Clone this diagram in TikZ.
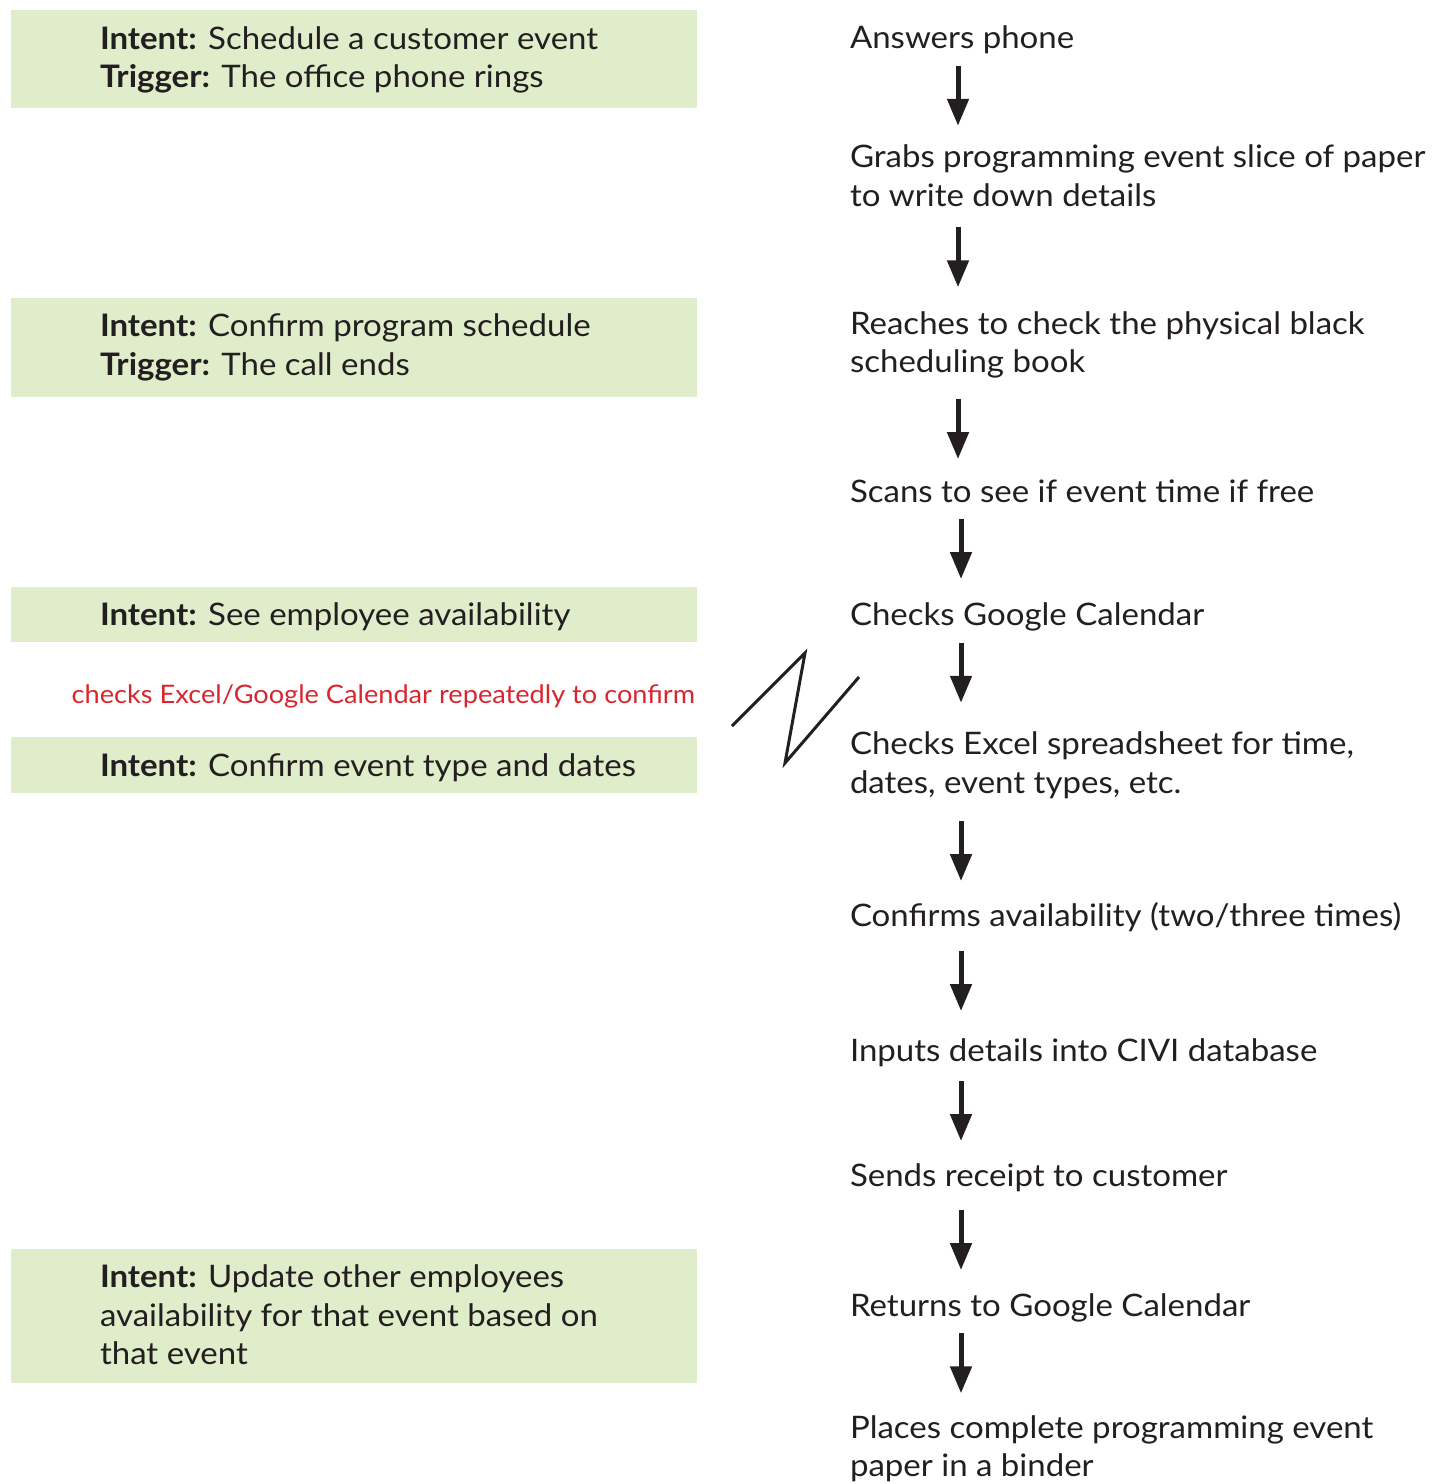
\documentclass[tikz,border=0pt]{standalone}
\usepackage{fontspec}
\setmainfont{Lato}[FakeStretch=1.065]
\usetikzlibrary{arrows.meta}
\definecolor{boxgreen}{HTML}{DFEDCB}
\definecolor{inkdark}{HTML}{231F20}
\definecolor{notered}{HTML}{D9262E}
\begin{document}
\begin{tikzpicture}[x=1pt,y=-1pt,
  every node/.style={inner sep=0pt, outer sep=0pt, text=inkdark},
  gbox/.style={fill=boxgreen, draw=none, anchor=north west, minimum width=686pt},
  gtext/.style={anchor=west, align=left, yshift=-3.5pt, font=\fontsize{31}{38.5}\selectfont},
  stepnode/.style={anchor=west, align=left, yshift=-3.5pt, font=\fontsize{31}{38.5}\selectfont},
  flowarrow/.style={draw=inkdark, line width=5pt, -{Triangle[width=21pt,length=27pt]}},
  redtext/.style={anchor=east, text=notered, yshift=-1.5pt, font=\fontsize{25.5}{30}\selectfont},
  zig/.style={draw=inkdark, line width=3pt, line join=miter}
]
\useasboundingbox (0,0) rectangle (1432,1484);

% left green boxes
\node[gbox, minimum height=98pt] (g1) at (11,10) {};
\node[gtext] (t1) at (100,57.5) {\strut\textbf{Intent:} Schedule a customer event\\\strut\textbf{Trigger:} The office phone rings};
\node[gbox, minimum height=99pt] (g2) at (11,298) {};
\node[gtext] (t2) at (100,345) {\strut\textbf{Intent:} Confirm program schedule\\\strut\textbf{Trigger:} The call ends};
\node[gbox, minimum height=55pt] (g3) at (11,587) {};
\node[gtext] (t3) at (100,614.5) {\strut\textbf{Intent:} See employee availability};
\node[redtext] (note) at (695,695) {checks Excel/Google Calendar repeatedly to confirm};
\node[gbox, minimum height=56pt] (g4) at (11,737) {};
\node[gtext] (t4) at (100,765) {\strut\textbf{Intent:} Confirm event type and dates};
\node[gbox, minimum height=134pt] (g5) at (11,1249) {};
\node[gtext] (t5) at (100,1315) {\strut\textbf{Intent:} Update other employees\\\strut availability for that event based on\\\strut that event};

% zigzag
\draw[zig] (732,726) -- (805,653) -- (785,763) -- (859,677);

% right column steps
\node[stepnode] (s1) at (850,37) {\strut Answers phone};
\node[stepnode] (s2) at (850,176) {\strut Grabs programming event slice of paper\\\strut to write down details};
\node[stepnode] (s3) at (850,342.5) {\strut Reaches to check the physical black\\\strut scheduling book};
\node[stepnode] (s4) at (850,491) {\strut Scans to see if event time if free};
\node[stepnode] (s5) at (850,614) {\strut Checks Google Calendar};
\node[stepnode] (s6) at (850,763) {\strut Checks Excel spreadsheet for time,\\\strut dates, event types, etc.};
\node[stepnode] (s7) at (850,915) {\strut Confirms availability (two/three times)};
\node[stepnode] (s8) at (850,1050) {\strut Inputs details into CIVI database};
\node[stepnode] (s9) at (850,1175) {\strut Sends receipt to customer};
\node[stepnode] (s10) at (850,1305) {\strut Returns to Google Calendar};
\node[stepnode] (s11) at (850,1446.5) {\strut Places complete programming event\\\strut paper in a binder};

\coordinate (xa) at (958,0);
\coordinate (xb) at (961,0);
\draw[flowarrow, shorten <=6.25pt, shorten >=15.25pt] (s1.south -| xa) -- (s2.north -| xa);
\draw[flowarrow, shorten <=9.25pt, shorten >=20.25pt] (s2.south -| xa) -- (s3.north -| xa);
\draw[flowarrow, shorten <=14.75pt, shorten >=16.25pt] (s3.south -| xa) -- (s4.north -| xa);
\draw[flowarrow, shorten <=5.25pt, shorten >=19.25pt] (s4.south -| xb) -- (s5.north -| xb);
\draw[flowarrow, shorten <=6.25pt, shorten >=25.25pt] (s5.south -| xb) -- (s6.north -| xb);
\draw[flowarrow, shorten <=16.25pt, shorten >=18.25pt] (s6.south -| xb) -- (s7.north -| xb);
\draw[flowarrow, shorten <=13.25pt, shorten >=23.25pt] (s7.south -| xb) -- (s8.north -| xb);
\draw[flowarrow, shorten <=8.25pt, shorten >=18.25pt] (s8.south -| xb) -- (s9.north -| xb);
\draw[flowarrow, shorten <=12.25pt, shorten >=19.25pt] (s9.south -| xb) -- (s10.north -| xb);
\draw[flowarrow, shorten <=5.25pt, shorten >=18.25pt] (s10.south -| xb) -- (s11.north -| xb);
\end{tikzpicture}
\end{document}
